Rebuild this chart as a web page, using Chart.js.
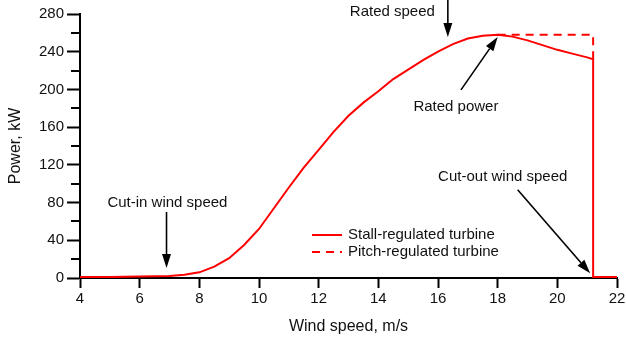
<!DOCTYPE html>
<html>
<head>
<meta charset="utf-8">
<script src="https://cdn.jsdelivr.net/npm/chart.js@4.4.1/dist/chart.umd.min.js"></script>
<style>
  html, body { margin: 0; padding: 0; background: #fff; }
  #wrap { width: 626px; height: 344px; }
</style>
</head>
<body>
<div id="wrap"><canvas id="powerChart" width="626" height="344"></canvas></div>
<script>
// wind speed (m/s) and power (kW)
const stallSpeed = [4, 5, 6, 7, 7.5, 8, 8.5, 9, 9.5, 10, 10.5, 11, 11.5, 12, 12.5, 13, 13.5, 14, 14.5, 15, 15.5, 16, 16.5, 17, 17.5, 18, 18.5, 19, 19.5, 20, 20.5, 21, 21.2, 21.2, 22];
const stallPower = [1, 1, 1.5, 2, 3.5, 6, 12, 21, 35, 52, 74, 96, 117, 136, 155, 172, 186, 198, 211, 221, 231, 240, 248, 254, 257, 258, 256, 252, 247, 242, 238, 234, 232, 1, 1];
const pitchSpeed = [18, 21.2, 21.2];
const pitchPower = [258, 258, 232];
const xTicks = [4, 6, 8, 10, 12, 14, 16, 18, 20, 22];
const yTicks = [0, 40, 80, 120, 160, 200, 240, 280];

const FONT = "'Liberation Sans', Arial, Helvetica, sans-serif";
const RED = "#ff0000";

function toPoints(xs, ys) {
    return xs.map((x, i) => ({ x: x, y: ys[i] }));
}

// arrows and notes, in data units
const notes = [
    { text: "Rated speed", x: 14.47, y: 282, from: [16.33, 295], to: [16.33, 255.5] },
    { text: "Rated power", x: 16.6, y: 181.5, from: [16.77, 199.5], to: [18.0, 255.5] },
    { text: "Cut-in wind speed", x: 6.93, y: 79.5, from: [6.9, 70], to: [6.9, 10.5] },
    { text: "Cut-out wind speed", x: 18.17, y: 107, from: [18.67, 93.5], to: [21.1, 5] },
];

function arrow(c, x1, y1, x2, y2) {
    const a = Math.atan2(y2 - y1, x2 - x1);
    const len = 14, half = 4.5;
    const bx = x2 - len * Math.cos(a), by = y2 - len * Math.sin(a);
    c.beginPath();
    c.moveTo(x1, y1);
    c.lineTo(bx, by);
    c.lineWidth = 1.6;
    c.strokeStyle = "#000";
    c.stroke();
    c.beginPath();
    c.moveTo(x2, y2);
    c.lineTo(bx + half * Math.sin(a), by - half * Math.cos(a));
    c.lineTo(bx - half * Math.sin(a), by + half * Math.cos(a));
    c.closePath();
    c.fillStyle = "#000";
    c.fill();
}

const extras = {
    id: "extras",
    afterDraw(chart) {
        const c = chart.ctx;
        const xs = chart.scales.x, ys = chart.scales.y;
        c.save();
        // minor ticks on y
        c.strokeStyle = "#000";
        c.lineWidth = 2;
        for (let v = 20; v < 280; v += 40) {
            const py = Math.round(ys.getPixelForValue(v));
            c.beginPath();
            c.moveTo(xs.left - 9, py);
            c.lineTo(xs.left, py);
            c.stroke();
        }
        // notes
        c.font = "15px " + FONT;
        c.textAlign = "center";
        c.textBaseline = "middle";
        notes.forEach(n => {
            c.fillStyle = "#111";
            c.fillText(n.text, xs.getPixelForValue(n.x), ys.getPixelForValue(n.y));
            arrow(c, xs.getPixelForValue(n.from[0]), ys.getPixelForValue(n.from[1]),
                xs.getPixelForValue(n.to[0]), ys.getPixelForValue(n.to[1]));
        });
        // legend
        const lx = chart.chartArea.left + 232, ly = chart.chartArea.top + 221;
        chart.data.datasets.forEach((ds, i) => {
            const y = ly + i * 17;
            c.beginPath();
            c.setLineDash(ds.borderDash || []);
            c.strokeStyle = ds.borderColor;
            c.lineWidth = 2;
            c.moveTo(lx, y);
            c.lineTo(lx + 30, y);
            c.stroke();
            c.setLineDash([]);
            c.fillStyle = "#111";
            c.textAlign = "left";
            c.fillText(ds.label, lx + 36, y);
        });
        c.restore();
    }
};

const ctx = document.getElementById("powerChart").getContext("2d");
const powerChart = new Chart(ctx, {
    type: "line",
    data: {
        datasets: [{
            label: "Stall-regulated turbine",
            data: toPoints(stallSpeed, stallPower),
            borderColor: RED,
            borderWidth: 2,
            pointRadius: 0,
            tension: 0,
        }, {
            label: "Pitch-regulated turbine",
            data: toPoints(pitchSpeed, pitchPower),
            borderColor: RED,
            borderWidth: 2,
            borderDash: [8, 6],
            pointRadius: 0,
            tension: 0,
        }],
    },
    options: {
        responsive: false,
        animation: false,
        layout: { padding: { top: 14, right: 9, left: 0, bottom: 0 } },
        plugins: {
            legend: { display: false },
            tooltip: { enabled: false },
        },
        scales: {
            x: {
                type: "linear",
                min: 4,
                max: 22,
                afterBuildTicks: s => { s.ticks = xTicks.map(v => ({ value: v })); },
                ticks: { color: "#111", font: { family: FONT, size: 15 }, padding: 2 },
                grid: { drawOnChartArea: false, tickLength: 10, tickWidth: 2, tickColor: "#000" },
                border: { display: true, color: "#000", width: 2 },
                title: { display: true, text: "Wind speed, m/s", color: "#111", font: { family: FONT, size: 16 }, padding: { top: 4, bottom: 8 } },
                afterFit: s => { s.height = 66; s.paddingRight = 0; s.paddingLeft = 0; },
            },
            y: {
                min: 0,
                max: 280,
                afterBuildTicks: s => { s.ticks = yTicks.map(v => ({ value: v })); },
                ticks: { color: "#111", font: { family: FONT, size: 15 }, padding: 3 },
                grid: { drawOnChartArea: false, tickLength: 13, tickWidth: 2, tickColor: "#000" },
                border: { display: true, color: "#000", width: 2 },
                title: { display: true, text: "Power, kW", color: "#111", font: { family: FONT, size: 16 }, padding: { top: 6, bottom: 4 } },
                afterFit: s => { s.width = 80; s.paddingTop = 0; s.paddingBottom = 0; },
            },
        },
    },
    plugins: [extras],
});
</script>
</body>
</html>
